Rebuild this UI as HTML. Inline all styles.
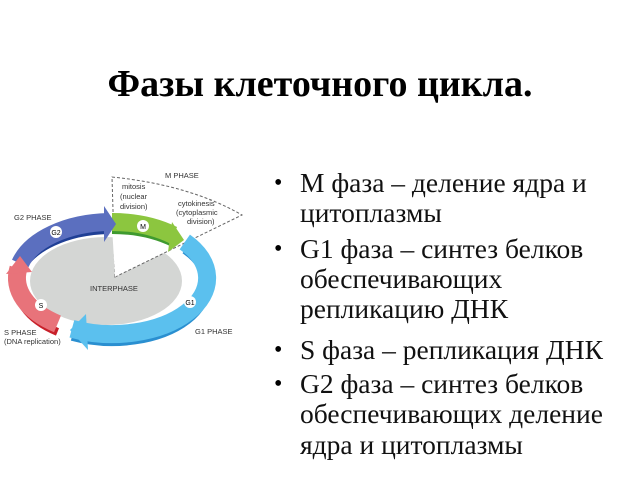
<!DOCTYPE html>
<html><head><meta charset="utf-8"><style>
body{margin:0;width:640px;height:480px;background:#fff;overflow:hidden;position:relative;font-family:"Liberation Serif",serif;}
.t{position:absolute;left:0;width:640px;text-align:center;top:62px;font-size:38px;font-weight:bold;}
.l{position:absolute;left:300px;font-size:27.5px;line-height:30px;white-space:nowrap;color:#111;}
.b{position:absolute;left:274px;font-size:24px;top:0}
svg{position:absolute;left:0;top:0}
</style></head><body>
<div class="t">Фазы клеточного цикла.</div>
<div class="b" style="top:170px">•</div><div class="l" style="top:168px">M фаза – деление ядра и</div>
<div class="l" style="top:198px">цитоплазмы</div>
<div class="b" style="top:236px">•</div><div class="l" style="top:234px">G1 фаза – синтез белков</div>
<div class="l" style="top:264px">обеспечивающих</div>
<div class="l" style="top:294px">репликацию ДНК</div>
<div class="b" style="top:337px">•</div><div class="l" style="top:335px">S фаза – репликация ДНК</div>
<div class="b" style="top:371px">•</div><div class="l" style="top:369px">G2 фаза – синтез белков</div>
<div class="l" style="top:399px">обеспечивающих деление</div>
<div class="l" style="top:430px">ядра и цитоплазмы</div>
<svg width="260" height="480" viewBox="0 0 260 480" font-family="Liberation Sans, sans-serif">
<ellipse cx="106" cy="281" rx="76" ry="44" fill="#d4d6d4"/>
<path d="M115,277 L112,177 Q190,185 242,215 Z" fill="#fff" stroke="#666" stroke-width="1" stroke-dasharray="3,2"/>
<polygon points="115,277 112,226 176,232" fill="#fff"/>
<g fill="none" stroke-width="8" transform="translate(0,8)">
<path d="M112,222 A95,56 0 0 1 173.1,235.1" stroke="#3f9a2f"/>
<path d="M184.8,242 A95,56 0 0 1 71.9,328.8" stroke="#2a8fd0"/>
<path d="M57.5,323.9 A95,56 0 0 1 18.4,268.3" stroke="#c8202a"/>
<path d="M20.2,263.5 A95,56 0 0 1 108.7,222" stroke="#1f3f95"/>
</g>
<g fill="none" stroke-width="18">
<path d="M112,222 A95,56 0 0 1 173.1,235.1" stroke="#8cc63f"/>
<path d="M184.8,242 A95,56 0 0 1 71.9,328.8" stroke="#5bc0ee"/>
<path d="M57.5,323.9 A95,56 0 0 1 18.4,268.3" stroke="#e8737a"/>
<path d="M20.2,263.5 A95,56 0 0 1 108.7,222" stroke="#5b6fbf"/>
</g>
<polygon points="172,222 184,240 168,252" fill="#8cc63f"/>
<polygon points="104,206 116,224 104,242" fill="#5b6fbf"/>
<polygon points="6,274 20,256 32,272" fill="#e8737a"/>
<polygon points="86,314 70,330 88,350" fill="#5bc0ee"/>
<circle cx="143" cy="226" r="6" fill="#fff"/><text x="143" y="229" font-size="7" text-anchor="middle">M</text>
<circle cx="56" cy="232" r="6" fill="#fff"/><text x="56" y="235" font-size="7" text-anchor="middle">G2</text>
<circle cx="41" cy="305" r="6" fill="#fff"/><text x="41" y="308" font-size="7" text-anchor="middle">S</text>
<circle cx="190" cy="302" r="6" fill="#fff"/><text x="190" y="305" font-size="7" text-anchor="middle">G1</text>
<g font-size="7.5" fill="#333">
<text x="165" y="178">M PHASE</text>
<text x="122" y="189">mitosis</text><text x="120" y="199">(nuclear</text><text x="120" y="209">division)</text>
<text x="178" y="206">cytokinesis</text><text x="176" y="215">(cytoplasmic</text><text x="187" y="224">division)</text>
<text x="14" y="220">G2 PHASE</text>
<text x="90" y="291">INTERPHASE</text>
<text x="195" y="334">G1 PHASE</text>
<text x="4" y="335">S PHASE</text><text x="4" y="344">(DNA replication)</text>
</g>
</svg>
</body></html>
